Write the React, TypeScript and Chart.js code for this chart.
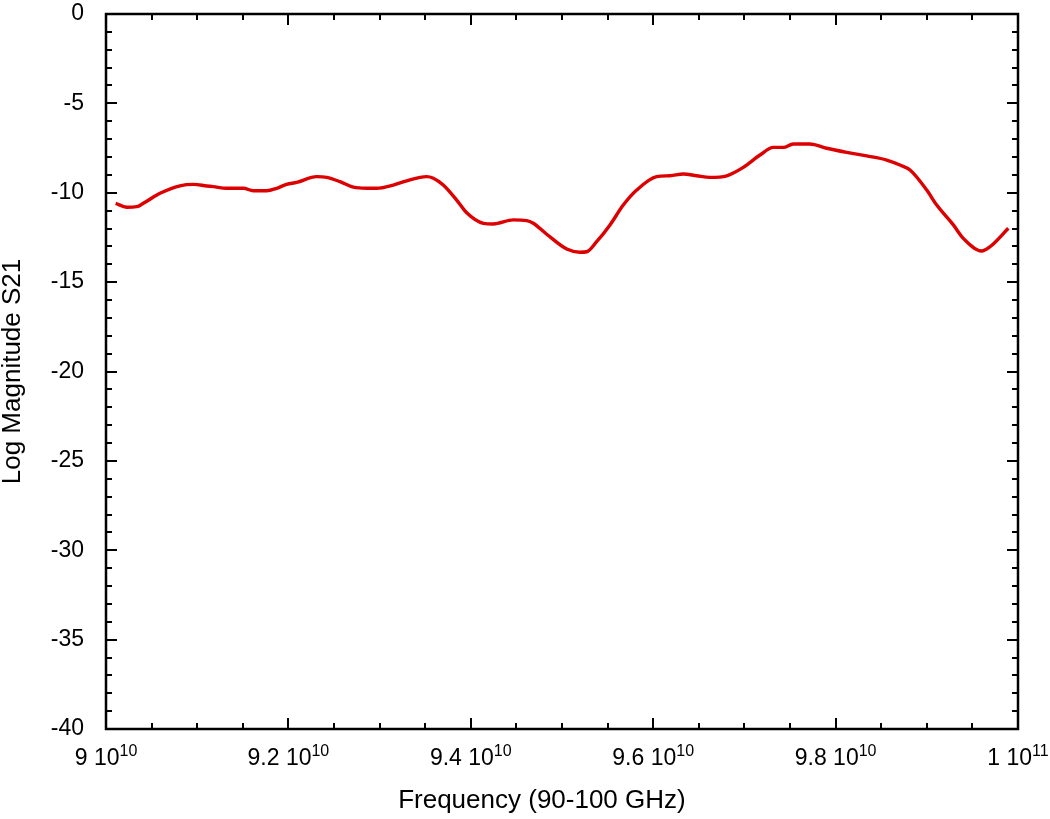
import React, { useEffect, useRef } from 'react';
import { Chart, registerables } from 'chart.js';

Chart.register(...registerables);

// Frequency (Hz) and S21 log magnitude (dB)
const frequencyHz = [
  9.0106e10, 9.0227e10, 9.0337e10, 9.0409e10, 9.0592e10, 9.0811e10, 9.0957e10, 9.1104e10,
  9.1177e10, 9.1323e10, 9.1506e10, 9.1615e10, 9.1762e10, 9.1872e10, 9.1981e10, 9.2091e10,
  9.231e10, 9.242e10, 9.2566e10, 9.2712e10, 9.2859e10, 9.2968e10, 9.315e10, 9.3297e10,
  9.3516e10, 9.3589e10, 9.3698e10, 9.3845e10, 9.3955e10, 9.4137e10, 9.4247e10, 9.4466e10,
  9.4613e10, 9.4685e10, 9.4832e10, 9.5052e10, 9.5197e10, 9.5271e10, 9.538e10, 9.5526e10,
  9.5672e10, 9.5819e10, 9.6038e10, 9.6184e10, 9.633e10, 9.6477e10, 9.6623e10, 9.6806e10,
  9.6988e10, 9.7171e10, 9.7317e10, 9.7427e10, 9.7536e10, 9.7719e10, 9.7902e10, 9.8122e10,
  9.8341e10, 9.856e10, 9.8706e10, 9.8816e10, 9.8999e10, 9.9109e10, 9.9291e10, 9.94e10,
  9.9602e10, 9.9693e10, 9.9894e10,
];

const s21dB = [
  -10.59, -10.81, -10.78, -10.59, -10.03, -9.61, -9.53, -9.62,
  -9.66, -9.75, -9.75, -9.89, -9.89, -9.75, -9.53, -9.42,
  -9.1, -9.14, -9.38, -9.69, -9.75, -9.75, -9.57, -9.33,
  -9.1, -9.19, -9.57, -10.41, -11.12, -11.71, -11.75, -11.52,
  -11.56, -11.71, -12.32, -13.15, -13.33, -13.3, -12.74, -11.8,
  -10.69, -9.85, -9.1, -9.05, -8.95, -9.05, -9.14, -9.05,
  -8.58, -7.89, -7.46, -7.46, -7.27, -7.27, -7.51, -7.74,
  -7.94, -8.17, -8.45, -8.73, -9.85, -10.69, -11.8, -12.55,
  -13.26, -13.02, -11.99,
];

// Axis tick labels and titles
const xTickValues = [9.0e10, 9.2e10, 9.4e10, 9.6e10, 9.8e10, 1.0e11];
const xTickMantissas = ['9', '9.2', '9.4', '9.6', '9.8', '1'];
const xTickExponents = ['10', '10', '10', '10', '10', '11'];
const xAxisTitle = 'Frequency (90-100 GHz)';
const yAxisTitle = 'Log Magnitude S21';

const X_MIN = 9.0e10;
const X_MAX = 1.0e11;
const X_MINOR = 5e8;
const X_MINOR_PER_MAJOR = 4;
const Y_MIN = -40;
const Y_MAX = 0;
const Y_MINOR = 1;
const Y_MINOR_PER_MAJOR = 5;

const FONT = '"Liberation Sans", Arial, Helvetica, sans-serif';

const frameTicksPlugin = {
  id: 'frameTicks',
  afterDraw(chart: any) {
    const { ctx, chartArea } = chart;
    const { left, right, top, bottom } = chartArea;
    const xs = chart.scales.x;
    const ys = chart.scales.y;
    ctx.save();
    ctx.strokeStyle = '#000';
    ctx.lineWidth = 2;
    ctx.lineCap = 'butt';
    ctx.beginPath();
    const nx = Math.round((X_MAX - X_MIN) / X_MINOR);
    for (let i = 0; i <= nx; i++) {
      const px = Math.round(xs.getPixelForValue(X_MIN + i * X_MINOR));
      const len = i % X_MINOR_PER_MAJOR === 0 ? 11 : 6;
      ctx.moveTo(px, bottom);
      ctx.lineTo(px, bottom - len);
      ctx.moveTo(px, top);
      ctx.lineTo(px, top + len);
    }
    const ny = Math.round((Y_MAX - Y_MIN) / Y_MINOR);
    for (let i = 0; i <= ny; i++) {
      const py = Math.round(ys.getPixelForValue(Y_MAX - i * Y_MINOR));
      const len = i % Y_MINOR_PER_MAJOR === 0 ? 11 : 6;
      ctx.moveTo(left, py);
      ctx.lineTo(left + len, py);
      ctx.moveTo(right, py);
      ctx.lineTo(right - len, py);
    }
    ctx.stroke();
    ctx.lineWidth = 2.5;
    ctx.strokeRect(left, top, right - left, bottom - top);

    // x tick labels with superscript exponents
    ctx.fillStyle = '#000';
    ctx.textBaseline = 'alphabetic';
    ctx.textAlign = 'left';
    const mainFont = `23px ${FONT}`;
    const supFont = `16px ${FONT}`;
    xTickValues.forEach((v, i) => {
      const px = xs.getPixelForValue(v);
      const mainText = `${xTickMantissas[i]} 10`;
      ctx.font = mainFont;
      const w1 = ctx.measureText(mainText).width;
      ctx.font = supFont;
      const w2 = ctx.measureText(xTickExponents[i]).width;
      const start = px - (w1 + w2) / 2;
      ctx.font = mainFont;
      ctx.fillText(mainText, start, bottom + 36);
      ctx.font = supFont;
      ctx.fillText(xTickExponents[i], start + w1, bottom + 27);
    });

    // x axis title (slightly left of the plot centre, as in the original)
    ctx.font = `26px ${FONT}`;
    ctx.textAlign = 'center';
    ctx.textBaseline = 'middle';
    ctx.fillText(xAxisTitle, left + (right - left) * 0.478, bottom + 72);
    ctx.restore();
  },
};

export default function App() {
  const canvasRef = useRef<HTMLCanvasElement>(null);

  useEffect(() => {
    const canvas = canvasRef.current;
    if (!canvas) return;
    const points = frequencyHz.map((f, i) => ({ x: f, y: s21dB[i] }));
    const chart = new Chart(canvas, {
      type: 'line',
      data: {
        datasets: [
          {
            label: 'S21',
            data: points,
            borderColor: '#dd0000',
            backgroundColor: '#dd0000',
            borderWidth: 3.4,
            pointRadius: 0,
            fill: false,
            cubicInterpolationMode: 'monotone',
          },
        ],
      },
      options: {
        responsive: false,
        animation: false,
        devicePixelRatio: 1,
        layout: { padding: { top: 14, right: 32, left: 0, bottom: 0 } },
        plugins: {
          legend: { display: false },
          tooltip: { enabled: false },
        },
        scales: {
          x: {
            type: 'linear',
            position: 'bottom',
            min: X_MIN,
            max: X_MAX,
            grid: { display: false, drawTicks: false },
            border: { display: false },
            ticks: { display: false },
            title: { display: false, text: xAxisTitle },
            afterFit(scale: any) {
              scale.height = 90;
              scale.paddingLeft = 0;
              scale.paddingRight = 0;
            },
          },
          y: {
            type: 'linear',
            min: Y_MIN,
            max: Y_MAX,
            grid: { display: false, drawTicks: false },
            border: { display: false },
            ticks: {
              stepSize: 5,
              color: '#000',
              padding: 22,
              font: { family: FONT, size: 23 },
            },
            title: {
              display: true,
              text: yAxisTitle,
              color: '#000',
              font: { family: FONT, size: 26, lineHeight: 1 },
              padding: { top: 0, bottom: 0 },
            },
            afterFit(scale: any) {
              scale.width = 106;
              scale.paddingTop = 0;
              scale.paddingBottom = 0;
            },
          },
        },
      },
      plugins: [frameTicksPlugin],
    } as any);
    return () => chart.destroy();
  }, []);

  return (
    <div style={{ position: 'fixed', left: 0, top: 0, width: 1050, height: 819, background: '#fff' }}>
      <canvas ref={canvasRef} width={1050} height={819} style={{ display: 'block' }} />
    </div>
  );
}
